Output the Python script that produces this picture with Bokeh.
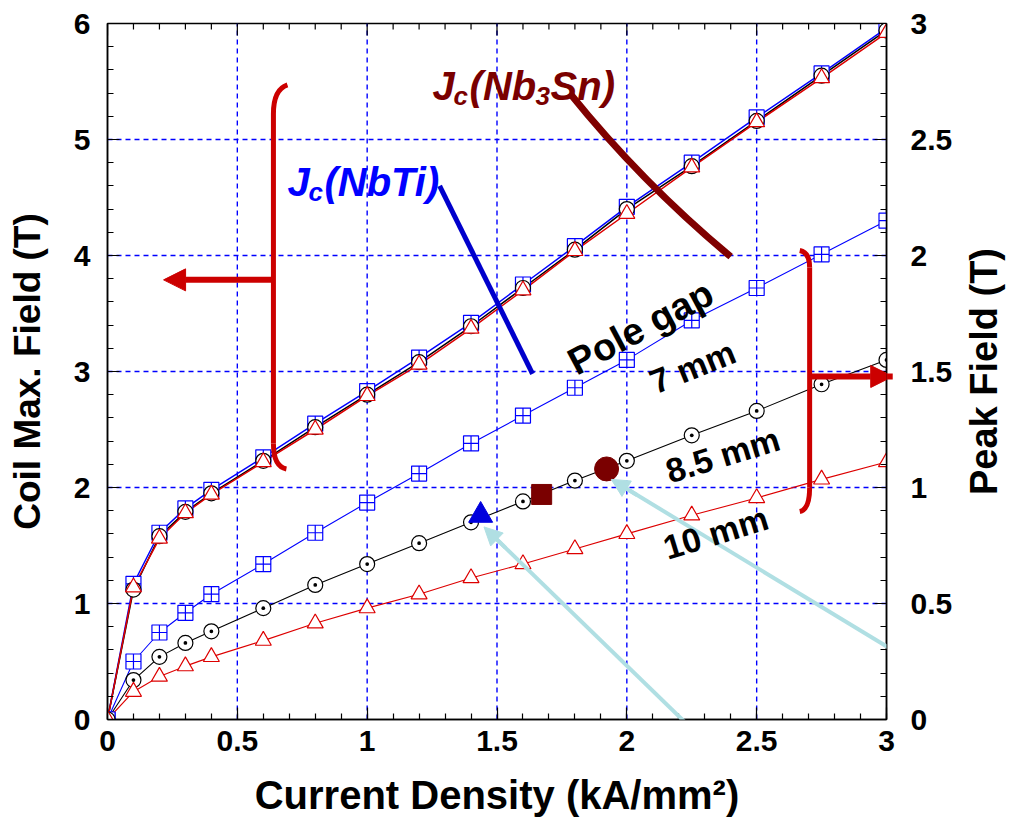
import math
import numpy as np
from bokeh.plotting import figure
from bokeh.models import Range1d, LinearAxis, Label, Arrow, NormalHead, SingleIntervalTicker, PolyAnnotation
from bokeh.embed import file_html
from bokeh.resources import INLINE

# ---------------- data ----------------
current_density = [0, 0.1, 0.2, 0.3, 0.4, 0.6, 0.8, 1.0, 1.2, 1.4, 1.6, 1.8, 2.0, 2.25, 2.5, 2.75, 3.0]

# Coil max. field (left axis, T)
coil_7mm = [0, 1.17, 1.61, 1.82, 1.98, 2.26, 2.55, 2.83, 3.12, 3.42, 3.75, 4.08, 4.42, 4.80, 5.19, 5.57, 5.96]
coil_85mm = [0, 1.12, 1.58, 1.79, 1.95, 2.23, 2.52, 2.80, 3.08, 3.39, 3.72, 4.05, 4.40, 4.77, 5.16, 5.55, 5.94]
coil_10mm = [0, 1.14, 1.56, 1.78, 1.94, 2.22, 2.50, 2.79, 3.06, 3.37, 3.70, 4.04, 4.36, 4.76, 5.15, 5.53, 5.92]

# Peak field (right axis, T)
peak_7mm = [0, 0.25, 0.375, 0.46, 0.54, 0.67, 0.805, 0.935, 1.06, 1.19, 1.31, 1.43, 1.55, 1.72, 1.86, 2.005, 2.15]
peak_85mm = [0, 0.17, 0.27, 0.33, 0.38, 0.48, 0.58, 0.67, 0.76, 0.85, 0.94, 1.03, 1.115, 1.225, 1.33, 1.445, 1.55]
peak_10mm = [0, 0.12, 0.185, 0.23, 0.27, 0.34, 0.415, 0.48, 0.54, 0.61, 0.67, 0.735, 0.80, 0.88, 0.955, 1.035, 1.11]

# highlighted operating points (right axis)
op_triangle = (1.437, 0.88)
op_square = (1.672, 0.97)
op_circle = (1.922, 1.08)

x_title = "Current Density (kA/mm²)"
yl_title = "Coil Max. Field (T)"
yr_title = "Peak Field (T)"

FONT = "Liberation Sans"
BLUE = "#0000ff"
RED = "#dd0000"
BRACKET = "#cc0000"
DRED = "#7a0000"
LBLUE = "#b0dfe3"

X0, X1, YL0, YL1, YR0, YR1 = 0, 3, 0, 6, 0, 3
FW, FH = 779, 696          # frame size, px
SX = FW / (X1 - X0)        # px per x unit
SY = FH / (YL1 - YL0)      # px per left-y unit

p = figure(width=1009, height=821, frame_width=FW, frame_height=FH,
           x_range=Range1d(X0, X1), y_range=Range1d(YL0, YL1),
           output_backend="svg", toolbar_location=None,
           min_border_left=107, min_border_right=123, min_border_top=23, min_border_bottom=102)
p.extra_y_ranges = {"right": Range1d(YR0, YR1)}
p.outline_line_color = "black"
p.outline_line_width = 1.5
p.xgrid.visible = False
p.ygrid.visible = False

def style_axis(ax):
    ax.axis_line_color = "black"
    ax.axis_line_width = 1.5
    ax.major_tick_in = 12
    ax.major_tick_out = 0
    ax.minor_tick_in = 6
    ax.minor_tick_out = 0
    ax.major_tick_line_color = "black"
    ax.minor_tick_line_color = "black"
    ax.major_tick_line_width = 1.2
    ax.minor_tick_line_width = 1.2
    ax.major_label_text_font = FONT
    ax.major_label_text_font_style = "bold"
    ax.major_label_text_font_size = "30px"
    ax.major_label_text_color = "black"
    ax.axis_label_text_font = FONT
    ax.axis_label_text_font_style = "bold"
    ax.axis_label_text_color = "black"

p.xaxis.ticker = SingleIntervalTicker(interval=0.5, num_minor_ticks=5)
p.yaxis.ticker = SingleIntervalTicker(interval=1, num_minor_ticks=5)
style_axis(p.xaxis[0])
style_axis(p.yaxis[0])
p.xaxis.axis_label = x_title
p.yaxis.axis_label = yl_title
p.xaxis.axis_label_text_font_size = "40px"
p.yaxis.axis_label_text_font_size = "37px"
p.xaxis.major_label_standoff = 11
p.yaxis.major_label_standoff = 17
p.xaxis.axis_label_standoff = 19
p.yaxis.axis_label_standoff = 23

right = LinearAxis(y_range_name="right", ticker=SingleIntervalTicker(interval=0.5, num_minor_ticks=5))
style_axis(right)
right.major_label_standoff = 24
p.add_layout(right, "right")

# right axis title, reading bottom to top like the left one (in the side panel, so it is not clipped)
p.add_layout(Label(x=X1 + 97 / SX, y=(YL0 + YL1) / 2, text=yr_title, angle=math.pi / 2,
                   text_align="center", text_baseline="middle", text_font=FONT,
                   text_font_style="bold", text_font_size="38px", text_color="black"), "right")

# grid lines (blue dashed) at major tick positions
gx = np.arange(X0 + 0.5, X1, 0.5)
gy = np.arange(YL0 + 1, YL1, 1)
p.segment(x0=gx, y0=[YL0] * len(gx), x1=gx, y1=[YL1] * len(gx), line_color=BLUE, line_width=1.4, line_dash="5 4")
p.segment(x0=[X0] * len(gy), y0=gy, x1=[X1] * len(gy), y1=gy, line_color=BLUE, line_width=1.4, line_dash="5 4")

# ticks along the top edge (inward)
tmaj = np.arange(X0, X1 + 0.01, 0.5)
tmin = np.array([v for v in np.arange(X0, X1 + 0.01, 0.1) if abs(v * 2 - round(v * 2)) > 1e-6])
p.segment(x0=tmaj, y0=[YL1] * len(tmaj), x1=tmaj, y1=[YL1 - 12 / SY] * len(tmaj), line_color="black", line_width=1.2)
p.segment(x0=tmin, y0=[YL1] * len(tmin), x1=tmin, y1=[YL1 - 6 / SY] * len(tmin), line_color="black", line_width=1.2)

# ---------------- series ----------------
# upper bundle (left axis)
p.line(current_density, coil_7mm, line_color=BLUE, line_width=1.5)
p.line(current_density, coil_85mm, line_color="black", line_width=1.5)
p.line(current_density, coil_10mm, line_color=RED, line_width=1.5)
p.scatter(current_density, coil_7mm, marker="square_cross", size=15, line_color=BLUE, fill_color="white", line_width=1.2)
p.scatter(current_density, coil_85mm, marker="circle_dot", size=15, line_color="black", fill_color="white", line_width=1.2)
p.scatter(current_density, coil_10mm, marker="triangle", size=16, line_color=RED, fill_color="white", line_width=1.2)

# lower curves (right axis)
p.line(current_density, peak_7mm, line_color=BLUE, line_width=1.1, y_range_name="right")
p.line(current_density, peak_85mm, line_color="black", line_width=1.1, y_range_name="right")
p.line(current_density, peak_10mm, line_color=RED, line_width=1.1, y_range_name="right")
p.scatter(current_density, peak_7mm, marker="square_cross", size=15, line_color=BLUE, fill_color="white", line_width=1.2, y_range_name="right")
p.scatter(current_density, peak_85mm, marker="circle_dot", size=15, line_color="black", fill_color="white", line_width=1.2, y_range_name="right")
p.scatter(current_density, peak_10mm, marker="triangle", size=16, line_color=RED, fill_color="white", line_width=1.2, y_range_name="right")

# highlighted operating points
p.scatter([op_triangle[0]], [op_triangle[1]], marker="triangle", size=24, fill_color="#0000dd", line_color="#0000dd", y_range_name="right")
p.scatter([op_square[0]], [op_square[1]], marker="square", size=20, fill_color=DRED, line_color=DRED, y_range_name="right")
p.scatter([op_circle[0]], [op_circle[1]], marker="circle", size=24, fill_color=DRED, line_color=DRED, y_range_name="right")

# ---------------- annotations ----------------
# left bracket (coil max field -> left axis)
p.line([0.639, 0.639], [5.22, 2.379], line_color=BRACKET, line_width=5)
p.quadratic(x0=[0.639], y0=[5.22], x1=[0.693], y1=[5.47], cx=[0.639], cy=[5.43], line_color=BRACKET, line_width=5)
p.quadratic(x0=[0.639], y0=[2.379], x1=[0.689], y1=[2.16], cx=[0.639], cy=[2.18], line_color=BRACKET, line_width=5)
p.add_layout(Arrow(x_start=0.639, y_start=3.79, x_end=0.216, y_end=3.79, line_color=BRACKET, line_width=6,
                   end=NormalHead(size=22, fill_color=BRACKET, line_color=BRACKET)))

# right bracket (peak field -> right axis)
p.line([2.704, 2.704], [3.897, 2.0], line_color=BRACKET, line_width=5)
p.quadratic(x0=[2.704], y0=[3.897], x1=[2.666], y1=[4.043], cx=[2.704], cy=[4.026], line_color=BRACKET, line_width=5)
p.quadratic(x0=[2.704], y0=[2.0], x1=[2.666], y1=[1.793], cx=[2.704], cy=[1.81], line_color=BRACKET, line_width=5)
p.add_layout(Arrow(x_start=2.704, y_start=2.957, x_end=3.024, y_end=2.957, line_color=BRACKET, line_width=6,
                   end=NormalHead(size=22, fill_color=BRACKET, line_color=BRACKET)), "right")

# Jc pointer lines
p.line([1.279, 1.637], [4.60, 2.98], line_color="#0000cc", line_width=5)
p.quadratic(x0=[1.78], y0=[5.40], x1=[2.40], y1=[3.99], cx=[2.059], cy=[4.626], line_color="#800000", line_width=7)

# light blue pointer arrows: they run past the plot frame, so the shaft is a
# two-point polygon outline kept in a side panel (side panels are not clipped)
def long_arrow(xs, ys, xe, ye, color, width, head, place):
    dxp, dyp = (xe - xs) * SX, (ye - ys) * SY
    L = math.hypot(dxp, dyp)
    ux, uy = dxp / L, dyp / L
    xe2, ye2 = xe - ux * 10 / SX, ye - uy * 10 / SY
    p.add_layout(PolyAnnotation(xs=[xs, xe2], ys=[ys, ye2], fill_alpha=0, line_alpha=1.0,
                                line_color=color, line_width=width), place)
    p.add_layout(Arrow(x_start=xe - ux * 30 / SX, y_start=ye - uy * 30 / SY, x_end=xe, y_end=ye,
                       line_color=color, line_width=width,
                       end=NormalHead(size=head, fill_color=color, line_color=color)))

long_arrow(3.44, 0.034, 1.94, 2.07, LBLUE, 4, 18, "right")
long_arrow(2.65, -0.95, 1.45, 1.66, LBLUE, 4, 18, "below")

def lab(x, y, text, size, color, xo=0, yo=0, style="bold italic", angle=0, align="left", baseline="alphabetic"):
    p.add_layout(Label(x=x, y=y, text=text, x_offset=xo, y_offset=yo, text_font=FONT,
                       text_font_style=style, text_font_size=size, text_color=color,
                       angle=angle, text_align=align, text_baseline=baseline))

# Jc(NbTi)
lab(0.693, 4.63, "J", "40px", "#0000ff")
lab(0.693, 4.63, "c", "26px", "#0000ff", xo=21, yo=-10)
lab(0.693, 4.63, "(NbTi)", "40px", "#0000ff", xo=37)
# Jc(Nb3Sn)
lab(1.252, 5.46, "J", "40px", DRED)
lab(1.252, 5.46, "c", "26px", DRED, xo=21, yo=-10)
lab(1.252, 5.46, "(Nb", "40px", DRED, xo=37)
lab(1.252, 5.46, "3", "26px", DRED, xo=103, yo=-10)
lab(1.252, 5.46, "Sn)", "40px", DRED, xo=118)

lab(2.053, 3.38, "Pole gap", "38px", "black", style="bold", angle=math.radians(28), align="center", baseline="middle")
lab(2.253, 3.04, "7 mm", "34px", "black", style="bold", angle=math.radians(22), align="center", baseline="middle")
lab(2.369, 2.28, "8.5 mm", "34px", "black", style="bold", angle=math.radians(17), align="center", baseline="middle")
lab(2.342, 1.61, "10 mm", "34px", "black", style="bold", angle=math.radians(17), align="center", baseline="middle")

open("out.html", "w").write(file_html(p, INLINE))
